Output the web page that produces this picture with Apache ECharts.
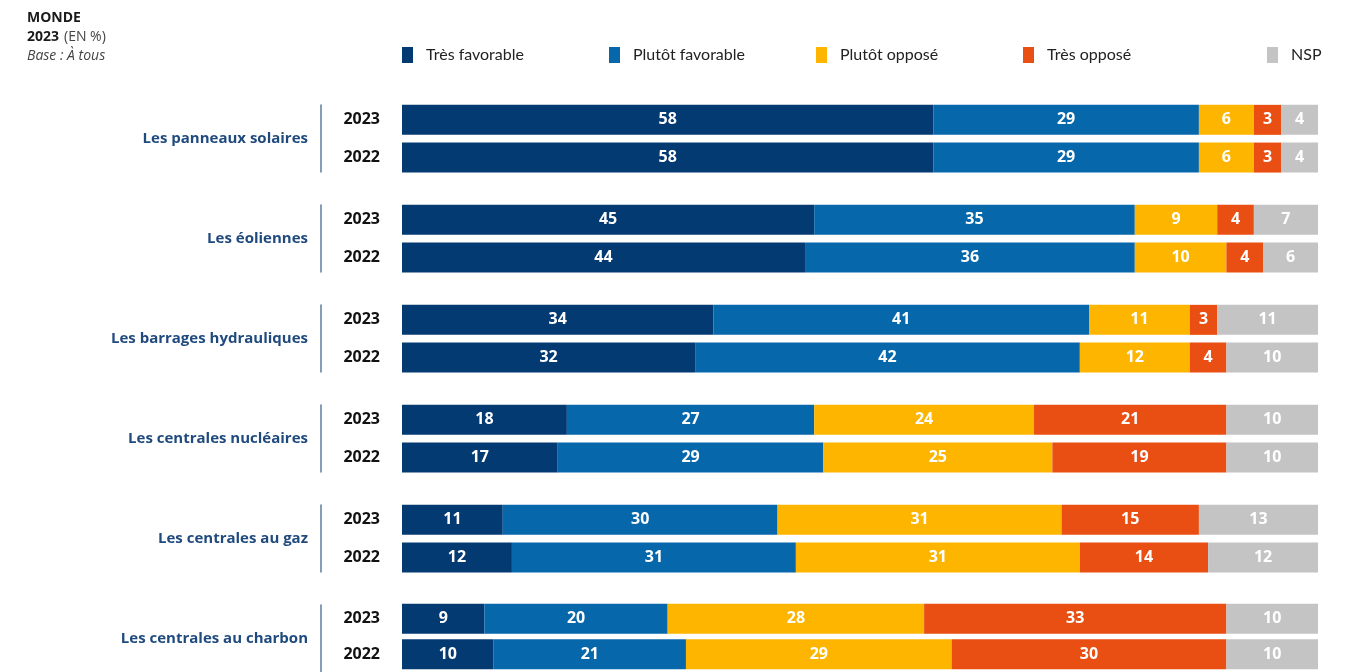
<!DOCTYPE html>
<html>
<head>
<meta charset="utf-8">
<script src="https://cdn.jsdelivr.net/npm/echarts@6/dist/echarts.min.js"></script>
<style>
  html, body { margin: 0; padding: 0; background: #ffffff; }
  #chart { width: 1348px; height: 672px; }
</style>
</head>
<body>
<div id="chart"></div>
<script>
// Energy sources and survey years
const categories = [
  'Les panneaux solaires',
  'Les éoliennes',
  'Les barrages hydrauliques',
  'Les centrales nucléaires',
  'Les centrales au gaz',
  'Les centrales au charbon'
];
const years = ['2023', '2022'];

// Answer shares in %, one [2023, 2022] pair per energy source
const tresFavorable   = [[58, 58], [45, 44], [34, 32], [18, 17], [11, 12], [9, 10]];
const plutotFavorable = [[29, 29], [35, 36], [41, 42], [27, 29], [30, 31], [20, 21]];
const plutotOppose    = [[6, 6],   [9, 10],  [11, 12], [24, 25], [31, 31], [28, 29]];
const tresOppose      = [[3, 3],   [4, 4],   [3, 4],   [21, 19], [15, 14], [33, 30]];
const nsp             = [[4, 4],   [7, 6],   [11, 10], [10, 10], [13, 12], [10, 10]];

const answers = ['Très favorable', 'Plutôt favorable', 'Plutôt opposé', 'Très opposé', 'NSP'];
const answerValues = [tresFavorable, plutotFavorable, plutotOppose, tresOppose, nsp];
const answerColors = ['#043a72', '#0767ab', '#fdb500', '#e94e12', '#c4c4c4'];

const FONT = 'Lato, "Noto Sans", sans-serif';
const BOLD_FONT = '"Open Sans", "Noto Sans", sans-serif';
const chart = echarts.init(document.getElementById('chart'));

const grids = [], xAxes = [], yAxes = [], series = [];
const GROUP_STEP = 100;

categories.forEach((cat, i) => {
  // bar grid for this energy source
  grids.push({ left: 402, right: 30, top: 101 + GROUP_STEP * i, height: 75.4 });
  xAxes.push({ type: 'value', gridIndex: 2 * i, min: 0, max: 100, show: false });
  yAxes.push({
    type: 'category', gridIndex: 2 * i, data: years, inverse: true,
    axisLine: { show: false }, axisTick: { show: false }, splitLine: { show: false },
    axisLabel: { margin: 22, color: '#111111', fontFamily: BOLD_FONT, fontWeight: 700, fontSize: 16 }
  });
  // narrow grid carrying the group's vertical rule and its name
  grids.push({ left: 321, width: 10, top: 105 + GROUP_STEP * i, height: 67 });
  xAxes.push({ type: 'value', gridIndex: 2 * i + 1, min: 0, max: 1, show: false });
  yAxes.push({
    type: 'category', gridIndex: 2 * i + 1, data: [''],
    axisLine: { show: true, lineStyle: { color: '#5b7ea3', width: 1.5 } },
    axisTick: { show: false }, axisLabel: { show: false }, splitLine: { show: false },
    name: cat, nameLocation: 'middle', nameRotate: 0, nameGap: 13,
    nameTextStyle: { color: '#1f4a7e', fontFamily: BOLD_FONT, fontWeight: 700, fontSize: 15 }
  });

  answers.forEach((ans, k) => {
    series.push({
      type: 'bar',
      name: ans,
      xAxisIndex: 2 * i,
      yAxisIndex: 2 * i,
      stack: 'group' + i,
      barWidth: 30,
      itemStyle: { color: answerColors[k] },
      label: {
        show: true, position: 'inside', color: '#ffffff',
        fontFamily: BOLD_FONT, fontWeight: 700, fontSize: 16
      },
      emphasis: { disabled: true },
      data: answerValues[k][i]
    });
  });
});

const legendLefts = [402, 609, 816, 1023, 1267];
const legends = answers.map((ans, k) => ({
  data: [ans],
  left: legendLefts[k],
  top: 47,
  padding: 0,
  icon: 'rect',
  itemWidth: 11,
  itemHeight: 16,
  selectedMode: false,
  textStyle: { color: '#222222', fontFamily: FONT, fontSize: 16, padding: [0, 0, 0, 8] }
}));

chart.setOption({
  animation: false,
  color: answerColors,
  title: {
    left: 27, top: 9, padding: 0,
    text: '{b|MONDE}\n{b|2023} {n|(EN %)}\n{i|Base : À tous}',
    textStyle: {
      rich: {
        b: { fontFamily: BOLD_FONT, fontWeight: 700, fontSize: 14, color: '#1a1a1a', lineHeight: 19 },
        n: { fontFamily: BOLD_FONT, fontWeight: 'normal', fontSize: 14, color: '#444444', lineHeight: 19 },
        i: { fontFamily: BOLD_FONT, fontWeight: 'normal', fontStyle: 'italic', fontSize: 14, color: '#444444', lineHeight: 19 }
      }
    }
  },
  legend: legends,
  grid: grids,
  xAxis: xAxes,
  yAxis: yAxes,
  series: series
});
</script>
</body>
</html>
